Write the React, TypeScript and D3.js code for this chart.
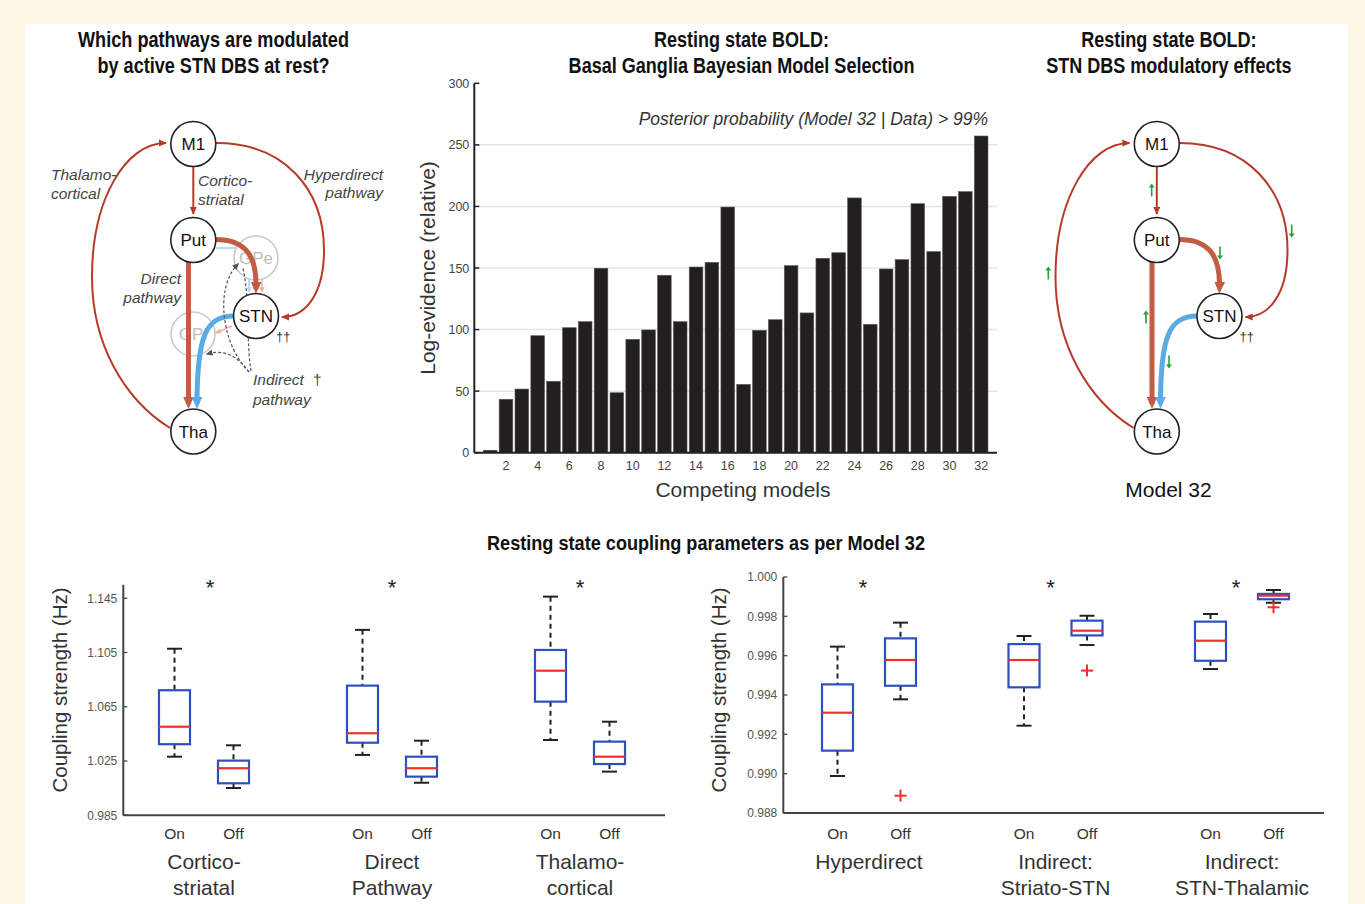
import React from 'react';
import * as d3 from 'd3';

const W = 1365;
const H = 904;

// ---------------- Bar chart data ----------------
const models = [1, 2, 3, 4, 5, 6, 7, 8, 9, 10, 11, 12, 13, 14, 15, 16, 17, 18, 19, 20, 21, 22, 23, 24, 25, 26, 27, 28, 29, 30, 31, 32];
const logEvidence = [2, 43.4, 51.7, 95.0, 58.0, 101.5, 106.4, 149.8, 48.7, 92.1, 99.7, 144.1, 106.4, 150.8, 154.6, 199.5, 55.5, 99.4, 108.0, 151.9, 113.5, 157.9, 162.4, 206.9, 104.3, 149.2, 156.8, 202.2, 163.3, 208.2, 212.0, 257.2];
const barYTicks = [0, 50, 100, 150, 200, 250, 300];
const barGrid = [50, 100, 150, 200, 250];
const barXTicks = [2, 4, 6, 8, 10, 12, 14, 16, 18, 20, 22, 24, 26, 28, 30, 32];

// ---------------- Box plot data: [lowWhisker, q1, median, q3, highWhisker] ----------------
const leftGroups = ['Cortico-|striatal', 'Direct|Pathway', 'Thalamo-|cortical'];
const leftOn = [
  [1.0282, 1.0374, 1.0503, 1.0772, 1.1078],
  [1.0295, 1.0385, 1.0455, 1.0806, 1.1217],
  [1.0405, 1.0688, 1.0916, 1.1069, 1.1462],
];
const leftOff = [
  [1.0051, 1.0086, 1.0197, 1.0253, 1.0366],
  [1.0090, 1.0135, 1.0197, 1.0282, 1.0400],
  [1.0172, 1.0228, 1.0282, 1.0393, 1.0540],
];
const leftOffOutliers: number[][] = [[], [], []];
const leftTicks = [0.985, 1.025, 1.065, 1.105, 1.145];

const rightGroups = ['Hyperdirect', 'Indirect:|Striato-STN', 'Indirect:|STN-Thalamic'];
const rightOn = [
  [0.98988, 0.99117, 0.9931, 0.99454, 0.99646],
  [0.99244, 0.99439, 0.99578, 0.99659, 0.9970],
  [0.99532, 0.99574, 0.99676, 0.99773, 0.99812],
];
const rightOff = [
  [0.99378, 0.99447, 0.99578, 0.99688, 0.99768],
  [0.99654, 0.99703, 0.99727, 0.99778, 0.99803],
  [0.99869, 0.99887, 0.99905, 0.99914, 0.99934],
];
const rightOffOutliers = [[0.98888], [0.99524], [0.99846]];
const rightTicks = [0.988, 0.99, 0.992, 0.994, 0.996, 0.998, 1.0];

const conditions = ['On', 'Off'];

// ---------------- Styles ----------------
const sans = "'Liberation Sans', Arial, Helvetica, sans-serif";
const CREAM = '#fdf8e4';
const THIN_RED = '#b63a28';
const THICK_RED = '#c35c45';
const BLUE = '#5aaae4';
const GREEN = '#2a9d3c';
const BOX_BLUE = '#2f4fbf';
const MED_RED = '#f0302a';

function BarChart() {
  const x = d3.scaleLinear().domain([0, 33]).range([474.3, 997]);
  const y = d3.scaleLinear().domain([0, 300]).range([452.7, 83.3]);
  const bw = x(0.86) - x(0);
  return (
    <g>
      {barGrid.map((t) => (
        <line key={'g' + t} x1={x(0) + 2} x2={x(33)} y1={y(t)} y2={y(t)} stroke="#e4e4e4" strokeWidth={1.5} />
      ))}
      {models.map((m, i) => (
        <rect key={m} x={x(m) - bw / 2} y={y(logEvidence[i])} width={bw} height={y(0) - y(logEvidence[i])}
          fill="#231f20" stroke="#5a5858" strokeWidth={0.6} />
      ))}
      <line x1={x(0)} x2={x(0)} y1={y(300)} y2={y(0)} stroke="#222" strokeWidth={2} />
      <line x1={x(0)} x2={x(33)} y1={y(0)} y2={y(0)} stroke="#222" strokeWidth={2} />
      {barYTicks.map((t) => (
        <g key={'yt' + t}>
          <line x1={x(0)} x2={x(0) + 5} y1={y(t)} y2={y(t)} stroke="#222" strokeWidth={1.5} />
          <text x={x(0) - 5} y={y(t) + 4.5} textAnchor="end" fontSize={12.5} fill="#444" fontFamily={sans}>{t}</text>
        </g>
      ))}
      {barXTicks.map((t) => (
        <text key={'xt' + t} x={x(t)} y={469.5} textAnchor="middle" fontSize={12.5} fill="#444" fontFamily={sans}>{t}</text>
      ))}
      <text x={988} y={125} textAnchor="end" fontSize={17.5} fontStyle="italic" fill="#333" fontFamily={sans}>
        Posterior probability (Model 32 | Data) &gt; 99%
      </text>
      <text transform={`translate(435,268) rotate(-90)`} textAnchor="middle" fontSize={21} fill="#333" fontFamily={sans}>
        Log-evidence (relative)
      </text>
      <text x={743} y={497} textAnchor="middle" fontSize={21} fill="#333" fontFamily={sans}>Competing models</text>
    </g>
  );
}

type BoxPanelProps = {
  groups: string[];
  on: number[][];
  off: number[][];
  offOutliers: number[][];
  domain: [number, number];
  range: [number, number];
  ticks: number[];
  spineX: number;
  axisEnd: number;
  centers: [number, number];
  offset: number;
  ylabelX: number;
  starDx: number[];
};

function BoxPanel(p: BoxPanelProps) {
  const y = d3.scaleLinear().domain(p.domain).range(p.range);
  const gx = d3.scalePoint<string>().domain(p.groups).range(p.centers);
  const boxW = 31;
  const capW = 15;
  const fmt = d3.format('.3f');
  const drawBox = (s: number[], cx: number, key: string, outliers: number[]) => (
    <g key={key}>
      <line x1={cx} x2={cx} y1={y(s[4])} y2={y(s[3])} stroke="#222" strokeWidth={2} strokeDasharray="5,4" />
      <line x1={cx} x2={cx} y1={y(s[1])} y2={y(s[0])} stroke="#222" strokeWidth={2} strokeDasharray="5,4" />
      <line x1={cx - capW / 2} x2={cx + capW / 2} y1={y(s[4])} y2={y(s[4])} stroke="#222" strokeWidth={2} />
      <line x1={cx - capW / 2} x2={cx + capW / 2} y1={y(s[0])} y2={y(s[0])} stroke="#222" strokeWidth={2} />
      <rect x={cx - boxW / 2} y={y(s[3])} width={boxW} height={y(s[1]) - y(s[3])} fill="white" stroke={BOX_BLUE} strokeWidth={2.2} />
      <line x1={cx - boxW / 2} x2={cx + boxW / 2} y1={y(s[2])} y2={y(s[2])} stroke={MED_RED} strokeWidth={2.2} />
      {outliers.map((o, j) => (
        <g key={j} stroke={MED_RED} strokeWidth={2}>
          <line x1={cx - 6} x2={cx + 6} y1={y(o)} y2={y(o)} />
          <line x1={cx} x2={cx} y1={y(o) - 6} y2={y(o) + 6} />
        </g>
      ))}
    </g>
  );
  return (
    <g>
      <line x1={p.spineX} x2={p.spineX} y1={y(p.domain[1])} y2={y(p.domain[0])} stroke="#444" strokeWidth={2} />
      <line x1={p.spineX} x2={p.axisEnd} y1={y(p.domain[0])} y2={y(p.domain[0])} stroke="#444" strokeWidth={2} />
      {p.ticks.map((t) => (
        <g key={'t' + t}>
          <line x1={p.spineX} x2={p.spineX + 4} y1={y(t)} y2={y(t)} stroke="#444" strokeWidth={1.3} />
          <text x={p.spineX - 6} y={y(t) + 4.3} textAnchor="end" fontSize={12} fill="#555" fontFamily={sans}>{fmt(t)}</text>
        </g>
      ))}
      <text transform={`translate(${p.ylabelX},690) rotate(-90)`} textAnchor="middle" fontSize={20.5} fill="#333" fontFamily={sans}>
        Coupling strength (Hz)
      </text>
      {p.groups.map((g, i) => {
        const c = gx(g) as number;
        const lines = g.split('|');
        return (
          <g key={g}>
            {drawBox(p.on[i], c - p.offset, 'on' + i, [])}
            {drawBox(p.off[i], c + p.offset, 'off' + i, p.offOutliers[i])}
            <text x={c + p.starDx[i]} y={595} textAnchor="middle" fontSize={22} fill="#222" fontFamily={sans}>*</text>
            {conditions.map((cond, k) => (
              <text key={cond} x={c + (k === 0 ? -p.offset : p.offset)} y={839} textAnchor="middle" fontSize={15.5} fill="#333" fontFamily={sans}>{cond}</text>
            ))}
            {lines.map((ln, k) => (
              <text key={ln} x={c} y={lines.length === 1 ? 868.5 : 868.5 + k * 26.5} textAnchor="middle" fontSize={21} fill="#333" fontFamily={sans}>{ln}</text>
            ))}
          </g>
        );
      })}
    </g>
  );
}

// ---------------- Diagram ----------------
const nodes = [
  { id: 'M1', x: 193.3, y: 144 },
  { id: 'Put', x: 193.3, y: 240 },
  { id: 'STN', x: 256, y: 316 },
  { id: 'Tha', x: 193.3, y: 431.5 },
];
const fadedNodes = [
  { id: 'GPe', x: 256, y: 258 },
  { id: 'GPi', x: 193, y: 334 },
];

function Diagram({ dx, left }: { dx: number; left: boolean }) {
  const R = 22.5;
  const pathThalCort = () => {
    const p = d3.path();
    p.moveTo(170, 428);
    p.bezierCurveTo(125, 400, 92, 345, 92, 277);
    p.bezierCurveTo(92, 200, 125, 143, 166, 143);
    return p.toString();
  };
  const pathHyper = () => {
    const p = d3.path();
    p.moveTo(216, 143);
    p.bezierCurveTo(285, 143, 324, 190, 324, 250);
    p.bezierCurveTo(324, 295, 305, 317, 282, 317);
    return p.toString();
  };
  const pathCortStr = () => {
    const p = d3.path();
    p.moveTo(193.3, 167);
    p.lineTo(193.3, 214);
    return p.toString();
  };
  const pathDirect = () => {
    const p = d3.path();
    p.moveTo(188.5, 262);
    p.lineTo(188.5, 404);
    return p.toString();
  };
  const pathPutStn = () => {
    const p = d3.path();
    p.moveTo(215, 239.5);
    p.bezierCurveTo(246, 239.5, 257, 256, 256, 289);
    return p.toString();
  };
  const pathStnTha = () => {
    const p = d3.path();
    p.moveTo(233.5, 316);
    p.bezierCurveTo(206, 316, 197, 336, 197, 404);
    return p.toString();
  };
  const idp = left ? 'L' : 'R';
  return (
    <g transform={`translate(${dx},0)`}>
      <defs>
        <marker id={'thin' + idp} viewBox="0 0 10 10" refX="9" refY="5" markerWidth="8" markerHeight="8" orient="auto" markerUnits="userSpaceOnUse">
          <path d="M0,0.5 L10,5 L0,9.5 z" fill={THIN_RED} />
        </marker>
        <marker id={'thick' + idp} viewBox="0 0 10 10" refX="6" refY="5" markerWidth="12" markerHeight="12" orient="auto" markerUnits="userSpaceOnUse">
          <path d="M0,0.5 L10,5 L0,9.5 z" fill={THICK_RED} />
        </marker>
        <marker id={'blue' + idp} viewBox="0 0 10 10" refX="6" refY="5" markerWidth="12" markerHeight="12" orient="auto" markerUnits="userSpaceOnUse">
          <path d="M0,0.5 L10,5 L0,9.5 z" fill={BLUE} />
        </marker>
        <marker id={'dash' + idp} viewBox="0 0 10 10" refX="8" refY="5" markerWidth="7" markerHeight="7" orient="auto" markerUnits="userSpaceOnUse">
          <path d="M0,0.5 L10,5 L0,9.5 z" fill="#555" />
        </marker>
        <marker id={'fb' + idp} viewBox="0 0 10 10" refX="8" refY="5" markerWidth="6" markerHeight="6" orient="auto" markerUnits="userSpaceOnUse">
          <path d="M0,0.5 L10,5 L0,9.5 z" fill="#b9dcf4" />
        </marker>
        <marker id={'fr' + idp} viewBox="0 0 10 10" refX="8" refY="5" markerWidth="6" markerHeight="6" orient="auto" markerUnits="userSpaceOnUse">
          <path d="M0,0.5 L10,5 L0,9.5 z" fill="#eab3a6" />
        </marker>
      </defs>
      {left && fadedNodes.map((n) => (
        <g key={n.id}>
          <circle cx={n.x} cy={n.y} r={22} fill="white" stroke="#c9c9c9" strokeWidth={1.6} />
          <text x={n.x} y={n.y + 6} textAnchor="middle" fontSize={17} fill="#bdbdbd" fontFamily={sans}>{n.id}</text>
        </g>
      ))}
      {left && (
        <g fill="none">
          <line x1={216} y1={248} x2={237} y2={248} stroke="#b9dcf4" strokeWidth={2} />
          <line x1={249} y1={279} x2={249} y2={292} stroke="#b9dcf4" strokeWidth={2} markerEnd={`url(#fb${idp})`} />
          <line x1={262} y1={279} x2={262} y2={292} stroke="#eab3a6" strokeWidth={1.5} markerEnd={`url(#fr${idp})`} />
          <line x1={232} y1={326} x2={216} y2={333} stroke="#eab3a6" strokeWidth={1.5} markerEnd={`url(#fr${idp})`} />
        </g>
      )}
      <g fill="none">
        <path d={pathThalCort()} stroke={THIN_RED} strokeWidth={2} markerEnd={`url(#thin${idp})`} />
        <path d={pathHyper()} stroke={THIN_RED} strokeWidth={2} markerEnd={`url(#thin${idp})`} />
        <path d={pathCortStr()} stroke={THIN_RED} strokeWidth={2} markerEnd={`url(#thin${idp})`} />
        <path d={pathDirect()} stroke={THICK_RED} strokeWidth={5} markerEnd={`url(#thick${idp})`} />
        <path d={pathPutStn()} stroke={THICK_RED} strokeWidth={5} markerEnd={`url(#thick${idp})`} />
        <path d={pathStnTha()} stroke={BLUE} strokeWidth={5} markerEnd={`url(#blue${idp})`} />
      </g>
      {left && (
        <g fill="none" stroke="#555" strokeWidth={1.2} strokeDasharray="3,2">
          <path d="M249,372 C222,345 214,288 238,264" markerEnd={`url(#dash${idp})`} />
          <path d="M251,371 C246,340 250,300 243,268" />
          <path d="M249,372 C238,356 224,349 207,354" markerEnd={`url(#dash${idp})`} />
        </g>
      )}
      {nodes.map((n) => (
        <g key={n.id}>
          <circle cx={n.x} cy={n.y} r={R} fill="white" stroke="#222" strokeWidth={1.6} />
          <text x={n.x} y={n.y + 6} textAnchor="middle" fontSize={17} fill="#111" fontFamily={sans}>{n.id}</text>
        </g>
      ))}
      <text x={276} y={341} fontSize={13} fill="#333" fontFamily={sans}>††</text>
      {left && (
        <g fontFamily={sans} fontStyle="italic" fontSize={15.5} fill="#444">
          <text x={51} y={180}>Thalamo-</text>
          <text x={51} y={198.5}>cortical</text>
          <text x={198} y={186}>Cortico-</text>
          <text x={198} y={205}>striatal</text>
          <text x={383} y={179.5} textAnchor="end">Hyperdirect</text>
          <text x={383} y={197.5} textAnchor="end">pathway</text>
          <text x={181} y={283.5} textAnchor="end">Direct</text>
          <text x={181} y={302.5} textAnchor="end">pathway</text>
          <text x={253} y={385}>Indirect</text>
          <text x={313} y={385} fontStyle="normal">†</text>
          <text x={253} y={404.5}>pathway</text>
        </g>
      )}
    </g>
  );
}

const greenArrows = [
  { x: 1151.7, y: 190, dir: -1 },
  { x: 1048.3, y: 273, dir: -1 },
  { x: 1291.7, y: 231, dir: 1 },
  { x: 1220, y: 253, dir: 1 },
  { x: 1146, y: 317, dir: -1 },
  { x: 1169, y: 362, dir: 1 },
];

function GreenArrow({ x, y, dir }: { x: number; y: number; dir: number }) {
  const tipY = y + dir * 6.5;
  return (
    <g>
      <line x1={x} x2={x} y1={y - dir * 6.5} y2={tipY - dir * 2} stroke={GREEN} strokeWidth={1.6} />
      <path d={`M${x - 3},${tipY - dir * 4} L${x},${tipY} L${x + 3},${tipY - dir * 4} Z`} fill={GREEN} />
    </g>
  );
}

// Title lines: text, center x, baseline y, target width (condensed bold look)
const titles = [
  { t: 'Which pathways are modulated', x: 213.5, y: 47, w: 271 },
  { t: 'by active STN DBS at rest?', x: 213.5, y: 72.5, w: 232 },
  { t: 'Resting state BOLD:', x: 741.6, y: 47, w: 175 },
  { t: 'Basal Ganglia Bayesian Model Selection', x: 741.6, y: 72.5, w: 346 },
  { t: 'Resting state BOLD:', x: 1168.9, y: 47, w: 175.5 },
  { t: 'STN DBS modulatory effects', x: 1168.9, y: 72.5, w: 245.5 },
];

export default function App() {
  return (
    <svg width={W} height={H} style={{ position: 'absolute', left: 0, top: 0, display: 'block' }}>
      <rect x={0} y={0} width={W} height={H} fill={CREAM} />
      <rect x={25} y={24} width={1323} height={H - 24} fill="white" />

      {/* Titles */}
      <g fontFamily={sans} fontWeight="bold" fontSize={21.5} fill="#111" textAnchor="middle">
        {titles.map((d, i) => (
          <text key={i} x={d.x} y={d.y} textLength={d.w} lengthAdjust="spacingAndGlyphs">{d.t}</text>
        ))}
        <text x={706} y={549.5} fontSize={20} textLength={438} lengthAdjust="spacingAndGlyphs">
          Resting state coupling parameters as per Model 32
        </text>
      </g>

      <Diagram dx={0} left={true} />
      <Diagram dx={963.5} left={false} />
      {greenArrows.map((a, i) => (
        <GreenArrow key={i} {...a} />
      ))}
      <text x={1168.5} y={497} textAnchor="middle" fontSize={21} fill="#111" fontFamily={sans}>Model 32</text>

      <BarChart />

      <BoxPanel groups={leftGroups} on={leftOn} off={leftOff} offOutliers={leftOffOutliers}
        domain={[0.985, 1.155]} range={[815.3, 584.7]} ticks={leftTicks} spineX={123.3} axisEnd={665}
        centers={[204, 580]} offset={29.5} ylabelX={67} starDx={[6, 0, 0]} />
      <BoxPanel groups={rightGroups} on={rightOn} off={rightOff} offOutliers={rightOffOutliers}
        domain={[0.988, 1.0]} range={[813, 577]} ticks={rightTicks} spineX={783.3} axisEnd={1324}
        centers={[869, 1242]} offset={31.5} ylabelX={726} starDx={[-6, -5, -6]} />
    </svg>
  );
}
